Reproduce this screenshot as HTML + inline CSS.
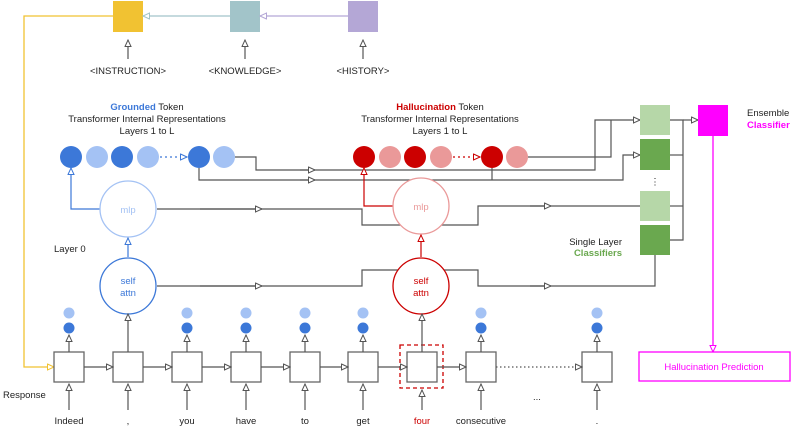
<!DOCTYPE html>
<html><head><meta charset="utf-8"><style>
html,body{margin:0;padding:0;background:#fff}
svg{display:block}
text{font-family:"Liberation Sans",sans-serif;font-size:9.5px}
</style></head><body>
<svg width="793" height="429" viewBox="0 0 793 429" xmlns="http://www.w3.org/2000/svg">
<defs>
<marker id="ag" markerWidth="8" markerHeight="8" refX="7" refY="3.5" orient="auto" markerUnits="userSpaceOnUse"><path d="M0.5,0.5 L7,3.5 L0.5,6.5 Z" fill="#fff" stroke="#555" stroke-width="1"/></marker>
<marker id="ab" markerWidth="8" markerHeight="8" refX="7" refY="3.5" orient="auto" markerUnits="userSpaceOnUse"><path d="M0.5,0.5 L7,3.5 L0.5,6.5 Z" fill="#fff" stroke="#3c78d8" stroke-width="1"/></marker>
<marker id="ar" markerWidth="8" markerHeight="8" refX="7" refY="3.5" orient="auto" markerUnits="userSpaceOnUse"><path d="M0.5,0.5 L7,3.5 L0.5,6.5 Z" fill="#fff" stroke="#cc0000" stroke-width="1"/></marker>
<marker id="ay" markerWidth="8" markerHeight="8" refX="7" refY="3.5" orient="auto" markerUnits="userSpaceOnUse"><path d="M0.5,0.5 L7,3.5 L0.5,6.5 Z" fill="#fff" stroke="#f1c232" stroke-width="1"/></marker>
<marker id="at" markerWidth="8" markerHeight="8" refX="7" refY="3.5" orient="auto" markerUnits="userSpaceOnUse"><path d="M0.5,0.5 L7,3.5 L0.5,6.5 Z" fill="#fff" stroke="#a2c4c9" stroke-width="1"/></marker>
<marker id="ap" markerWidth="8" markerHeight="8" refX="7" refY="3.5" orient="auto" markerUnits="userSpaceOnUse"><path d="M0.5,0.5 L7,3.5 L0.5,6.5 Z" fill="#fff" stroke="#b4a7d6" stroke-width="1"/></marker>
<marker id="am" markerWidth="8" markerHeight="8" refX="7" refY="3.5" orient="auto" markerUnits="userSpaceOnUse"><path d="M0.5,0.5 L7,3.5 L0.5,6.5 Z" fill="#fff" stroke="#ff00ff" stroke-width="1"/></marker>
</defs>

<g fill="#222">
<!-- top boxes -->
<rect x="113" y="1" width="30" height="31" fill="#f1c232"/>
<rect x="230" y="1" width="30" height="31" fill="#a2c4c9"/>
<rect x="348" y="1" width="30" height="31" fill="#b4a7d6"/>
<line x1="230" y1="16" x2="143" y2="16" stroke="#a2c4c9" stroke-width="1.3" marker-end="url(#at)"/>
<line x1="348" y1="16" x2="260" y2="16" stroke="#b4a7d6" stroke-width="1.3" marker-end="url(#ap)"/>
<g stroke="#555" stroke-width="1.2">
<line x1="128" y1="59" x2="128" y2="40" marker-end="url(#ag)"/>
<line x1="245" y1="59" x2="245" y2="40" marker-end="url(#ag)"/>
<line x1="363" y1="59" x2="363" y2="40" marker-end="url(#ag)"/>
</g>
<text x="128" y="74" text-anchor="middle">&lt;INSTRUCTION&gt;</text>
<text x="245" y="74" text-anchor="middle">&lt;KNOWLEDGE&gt;</text>
<text x="363" y="74" text-anchor="middle">&lt;HISTORY&gt;</text>
<polyline points="113,16 24,16 24,367 54,367" fill="none" stroke="#f1c232" stroke-width="1.3" marker-end="url(#ay)"/>

<!-- labels -->
<text x="147" y="110" text-anchor="middle"><tspan fill="#3c78d8" font-weight="bold">Grounded</tspan> Token</text>
<text x="147" y="122" text-anchor="middle">Transformer Internal Representations</text>
<text x="147" y="134" text-anchor="middle">Layers 1 to L</text>
<text x="440" y="110" text-anchor="middle"><tspan fill="#cc0000" font-weight="bold">Hallucination</tspan> Token</text>
<text x="440" y="122" text-anchor="middle">Transformer Internal Representations</text>
<text x="440" y="134" text-anchor="middle">Layers 1 to L</text>

<!-- connectors to classifiers -->
<g fill="none" stroke="#555" stroke-width="1.2">
<polyline points="235,157 256,157 256,170 595,170 595,120 640,120" marker-end="url(#ag)"/>
<polyline points="528,157 611,157 611,120"/>
<polyline points="199,168 199,180 623,180 623,155 640,155" marker-end="url(#ag)"/>
<polyline points="492,168 492,180"/>
<polyline points="157,209 362,209 362,225 478,225 478,206 640,206"/>
<line x1="530" y1="206" x2="551" y2="206" marker-end="url(#ag)"/>
<line x1="200" y1="209" x2="262" y2="209" marker-end="url(#ag)"/>
<polyline points="157,286 362,286 362,270 478,270 478,286 655,286 655,255"/>
<line x1="200" y1="286" x2="262" y2="286" marker-end="url(#ag)"/>
<line x1="530" y1="286" x2="551" y2="286" marker-end="url(#ag)"/>
<line x1="300" y1="170" x2="315" y2="170" marker-end="url(#ag)"/>
<line x1="300" y1="180" x2="315" y2="180" marker-end="url(#ag)"/>
<polyline points="670,120 683,120 683,240 670,240"/>
<line x1="670" y1="155" x2="683" y2="155"/>
<line x1="670" y1="206" x2="683" y2="206"/>
<line x1="683" y1="120" x2="698" y2="120" marker-end="url(#ag)"/>
</g>

<!-- circles rows -->
<circle cx="71" cy="157" r="11" fill="#3c78d8"/><circle cx="97" cy="157" r="11" fill="#a4c2f4"/>
<circle cx="122" cy="157" r="11" fill="#3c78d8"/><circle cx="148" cy="157" r="11" fill="#a4c2f4"/>
<circle cx="199" cy="157" r="11" fill="#3c78d8"/><circle cx="224" cy="157" r="11" fill="#a4c2f4"/>
<line x1="160" y1="157" x2="187" y2="157" stroke="#3c78d8" stroke-width="1.2" stroke-dasharray="2,3" marker-end="url(#ab)"/>
<circle cx="364" cy="157" r="11" fill="#cc0000"/><circle cx="390" cy="157" r="11" fill="#ea9999"/>
<circle cx="415" cy="157" r="11" fill="#cc0000"/><circle cx="441" cy="157" r="11" fill="#ea9999"/>
<circle cx="492" cy="157" r="11" fill="#cc0000"/><circle cx="517" cy="157" r="11" fill="#ea9999"/>
<line x1="453" y1="157" x2="480" y2="157" stroke="#cc0000" stroke-width="1.2" stroke-dasharray="2,3" marker-end="url(#ar)"/>

<!-- mlp / attn -->
<polyline points="100,209 71,209 71,168" fill="none" stroke="#3c78d8" stroke-width="1.2" marker-end="url(#ab)"/>
<polyline points="393,206 364,206 364,168" fill="none" stroke="#cc0000" stroke-width="1.2" marker-end="url(#ar)"/>
<circle cx="128" cy="209" r="28" fill="#fff" stroke="#a4c2f4" stroke-width="1.3"/>
<text x="128" y="213" text-anchor="middle" fill="#a4c2f4">mlp</text>
<circle cx="421" cy="206" r="28" fill="#fff" stroke="#ea9999" stroke-width="1.3"/>
<text x="421" y="210" text-anchor="middle" fill="#ea9999">mlp</text>
<line x1="128" y1="257" x2="128" y2="238" stroke="#3c78d8" stroke-width="1.2" marker-end="url(#ab)"/>
<line x1="421" y1="257" x2="421" y2="235" stroke="#cc0000" stroke-width="1.2" marker-end="url(#ar)"/>
<circle cx="128" cy="286" r="28" fill="#fff" stroke="#3c78d8" stroke-width="1.3"/>
<text x="128" y="284" text-anchor="middle" fill="#3c78d8">self</text>
<text x="128" y="296" text-anchor="middle" fill="#3c78d8">attn</text>
<circle cx="421" cy="286" r="28" fill="#fff" stroke="#cc0000" stroke-width="1.3"/>
<text x="421" y="284" text-anchor="middle" fill="#cc0000">self</text>
<text x="421" y="296" text-anchor="middle" fill="#cc0000">attn</text>
<text x="54" y="252">Layer 0</text>

<!-- classifiers -->
<rect x="640" y="105" width="30" height="30" fill="#b6d7a8"/>
<rect x="640" y="139" width="30" height="31" fill="#6aa84f"/>
<text x="655" y="185" text-anchor="middle">⋮</text>
<rect x="640" y="191" width="30" height="30" fill="#b6d7a8"/>
<rect x="640" y="225" width="30" height="30" fill="#6aa84f"/>
<text x="622" y="245" text-anchor="end">Single Layer</text>
<text x="622" y="256" text-anchor="end" fill="#6aa84f" font-weight="bold">Classifiers</text>
<rect x="698" y="105" width="30" height="31" fill="#ff00ff"/>
<text x="747" y="116">Ensemble</text>
<text x="747" y="128" fill="#ff00ff" font-weight="bold">Classifier</text>
<line x1="713" y1="136" x2="713" y2="352" stroke="#ff00ff" stroke-width="1.3" marker-end="url(#am)"/>
<rect x="639" y="352" width="151" height="29" fill="#fff" stroke="#ff00ff" stroke-width="1.3"/>
<text x="714" y="370" text-anchor="middle" fill="#ff00ff">Hallucination Prediction</text>

<!-- response row -->
<g fill="#fff" stroke="#666" stroke-width="1.3">
<rect x="54" y="352" width="30" height="30"/><rect x="113" y="352" width="30" height="30"/>
<rect x="172" y="352" width="30" height="30"/><rect x="231" y="352" width="30" height="30"/>
<rect x="290" y="352" width="30" height="30"/><rect x="348" y="352" width="30" height="30"/>
<rect x="407" y="352" width="30" height="30"/><rect x="466" y="352" width="30" height="30"/>
<rect x="582" y="352" width="30" height="30"/>
</g>
<rect x="400" y="345" width="43" height="43" fill="none" stroke="#cc0000" stroke-width="1.3" stroke-dasharray="4,3"/>
<g stroke="#555" stroke-width="1.2" fill="none">
<line x1="84" y1="367" x2="113" y2="367" marker-end="url(#ag)"/>
<line x1="143" y1="367" x2="172" y2="367" marker-end="url(#ag)"/>
<line x1="202" y1="367" x2="231" y2="367" marker-end="url(#ag)"/>
<line x1="261" y1="367" x2="290" y2="367" marker-end="url(#ag)"/>
<line x1="320" y1="367" x2="348" y2="367" marker-end="url(#ag)"/>
<line x1="378" y1="367" x2="407" y2="367" marker-end="url(#ag)"/>
<line x1="437" y1="367" x2="466" y2="367" marker-end="url(#ag)"/>
<line x1="496" y1="367" x2="582" y2="367" stroke-dasharray="1.5,2.5" marker-end="url(#ag)"/>
<line x1="128" y1="352" x2="128" y2="314" marker-end="url(#ag)"/>
<line x1="422" y1="352" x2="422" y2="314" marker-end="url(#ag)"/>
<line x1="69" y1="352" x2="69" y2="335" marker-end="url(#ag)"/>
<line x1="187" y1="352" x2="187" y2="335" marker-end="url(#ag)"/>
<line x1="246" y1="352" x2="246" y2="335" marker-end="url(#ag)"/>
<line x1="305" y1="352" x2="305" y2="335" marker-end="url(#ag)"/>
<line x1="363" y1="352" x2="363" y2="335" marker-end="url(#ag)"/>
<line x1="481" y1="352" x2="481" y2="335" marker-end="url(#ag)"/>
<line x1="597" y1="352" x2="597" y2="335" marker-end="url(#ag)"/>
<line x1="69" y1="410" x2="69" y2="384" marker-end="url(#ag)"/>
<line x1="128" y1="410" x2="128" y2="384" marker-end="url(#ag)"/>
<line x1="187" y1="410" x2="187" y2="384" marker-end="url(#ag)"/>
<line x1="246" y1="410" x2="246" y2="384" marker-end="url(#ag)"/>
<line x1="305" y1="410" x2="305" y2="384" marker-end="url(#ag)"/>
<line x1="363" y1="410" x2="363" y2="384" marker-end="url(#ag)"/>
<line x1="422" y1="410" x2="422" y2="390" marker-end="url(#ag)"/>
<line x1="481" y1="410" x2="481" y2="384" marker-end="url(#ag)"/>
<line x1="597" y1="410" x2="597" y2="384" marker-end="url(#ag)"/>
</g>
<circle cx="69" cy="313" r="5.5" fill="#a4c2f4"/><circle cx="69" cy="328" r="5.5" fill="#3c78d8"/>
<circle cx="187" cy="313" r="5.5" fill="#a4c2f4"/><circle cx="187" cy="328" r="5.5" fill="#3c78d8"/>
<circle cx="246" cy="313" r="5.5" fill="#a4c2f4"/><circle cx="246" cy="328" r="5.5" fill="#3c78d8"/>
<circle cx="305" cy="313" r="5.5" fill="#a4c2f4"/><circle cx="305" cy="328" r="5.5" fill="#3c78d8"/>
<circle cx="363" cy="313" r="5.5" fill="#a4c2f4"/><circle cx="363" cy="328" r="5.5" fill="#3c78d8"/>
<circle cx="481" cy="313" r="5.5" fill="#a4c2f4"/><circle cx="481" cy="328" r="5.5" fill="#3c78d8"/>
<circle cx="597" cy="313" r="5.5" fill="#a4c2f4"/><circle cx="597" cy="328" r="5.5" fill="#3c78d8"/>
<text x="3" y="398">Response</text>
<text x="537" y="400" text-anchor="middle">...</text>
<g text-anchor="middle">
<text x="69" y="424">Indeed</text><text x="128" y="424">,</text><text x="187" y="424">you</text>
<text x="246" y="424">have</text><text x="305" y="424">to</text><text x="363" y="424">get</text>
<text x="422" y="424" fill="#cc0000">four</text><text x="481" y="424">consecutive</text><text x="597" y="424">.</text>
</g>
</g>
</svg>
</body></html>
